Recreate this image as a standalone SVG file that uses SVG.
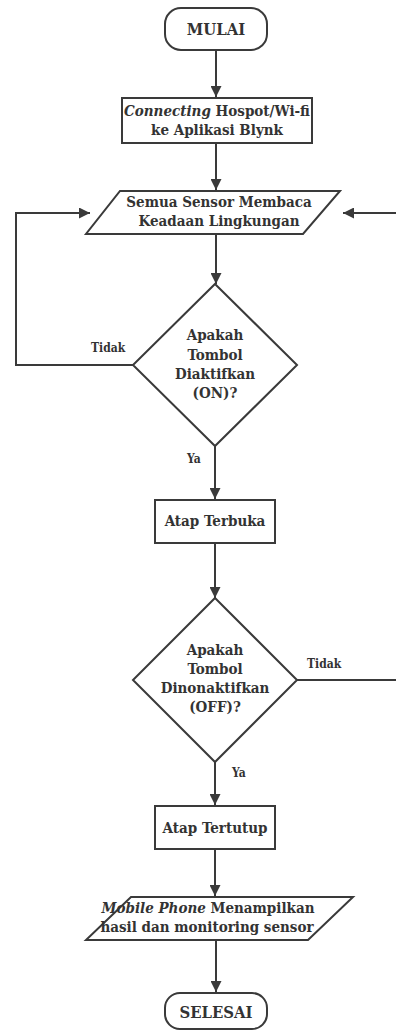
<svg xmlns="http://www.w3.org/2000/svg" width="396" height="1031" viewBox="0 0 396 1031">
<style>
.s{fill:#fff;stroke:#3a3a3a;stroke-width:2}
.c{fill:none;stroke:#3a3a3a;stroke-width:2}
.t{font-family:"DejaVu Serif Condensed","DejaVu Serif",serif;font-stretch:condensed;font-weight:700;font-size:15px;fill:#333;text-anchor:middle}
.b{font-size:16.5px}
.l{font-family:"DejaVu Serif Condensed","DejaVu Serif",serif;font-stretch:condensed;font-weight:700;font-size:12px;fill:#333}
.i{font-style:italic}
</style>
<defs>
<marker id="ah" markerUnits="userSpaceOnUse" markerWidth="11" markerHeight="11" refX="11" refY="5.5" orient="auto">
<path d="M0,0 L11,5.5 L0,11 z" fill="#3a3a3a"/>
</marker>
</defs>
<g id="connectors">
<path class="c" d="M216,50 V97" marker-end="url(#ah)"/>
<path class="c" d="M216,143 V190" marker-end="url(#ah)"/>
<path class="c" d="M216,234 V284" marker-end="url(#ah)"/>
<path class="c" d="M133,365 H16 V213 H90" marker-end="url(#ah)"/>
<path class="c" d="M215,446 V499" marker-end="url(#ah)"/>
<path class="c" d="M215,543 V598" marker-end="url(#ah)"/>
<path class="c" d="M297,680 H399 V213 H343" marker-end="url(#ah)"/>
<path class="c" d="M215,762 V805" marker-end="url(#ah)"/>
<path class="c" d="M215,849 V896" marker-end="url(#ah)"/>
<path class="c" d="M216,940 V992" marker-end="url(#ah)"/>
<text class="l" x="91" y="352">Tidak</text>
<text class="l" x="187" y="463">Ya</text>
<text class="l" x="307" y="668">Tidak</text>
<text class="l" x="232" y="777">Ya</text>
</g>
<g id="mulai">
<rect class="s" x="165" y="8" width="102" height="42" rx="16"/>
<text class="t b" x="216" y="35">MULAI</text>
</g>
<g id="connecting">
<rect class="s" x="122" y="98" width="190" height="45"/>
<text class="t" x="217" y="116"><tspan class="i">Connecting</tspan> Hospot/Wi-fi</text>
<text class="t" x="217" y="135">ke Aplikasi Blynk</text>
</g>
<g id="sensor">
<polygon class="s" points="120,191 340,191 303,234 86,234"/>
<text class="t" x="219" y="207">Semua Sensor Membaca</text>
<text class="t" x="219" y="226">Keadaan Lingkungan</text>
</g>
<g id="cek-on">
<polygon class="s" points="215,284 297,365 215,446 133,365"/>
<text class="t" x="215" y="340">Apakah</text>
<text class="t" x="215" y="360">Tombol</text>
<text class="t" x="215" y="379">Diaktifkan</text>
<text class="t" x="215" y="398">(ON)?</text>
</g>
<g id="terbuka">
<rect class="s" x="155" y="500" width="120" height="43"/>
<text class="t" x="215" y="526">Atap Terbuka</text>
</g>
<g id="cek-off">
<polygon class="s" points="215,598 297,680 215,762 133,680"/>
<text class="t" x="215" y="655">Apakah</text>
<text class="t" x="215" y="674">Tombol</text>
<text class="t" x="215" y="693">Dinonaktifkan</text>
<text class="t" x="215" y="712">(OFF)?</text>
</g>
<g id="tertutup">
<rect class="s" x="155" y="806" width="120" height="43"/>
<text class="t" x="215" y="833">Atap Tertutup</text>
</g>
<g id="mobile">
<polygon class="s" points="131,897 353,897 308,940 86,940"/>
<text class="t" x="208" y="913"><tspan class="i">Mobile Phone</tspan> Menampilkan</text>
<text class="t" x="207" y="932">hasil dan monitoring sensor</text>
</g>
<g id="selesai">
<rect class="s" x="165" y="993" width="102" height="36" rx="15"/>
<text class="t b" x="216" y="1018">SELESAI</text>
</g>
</svg>
